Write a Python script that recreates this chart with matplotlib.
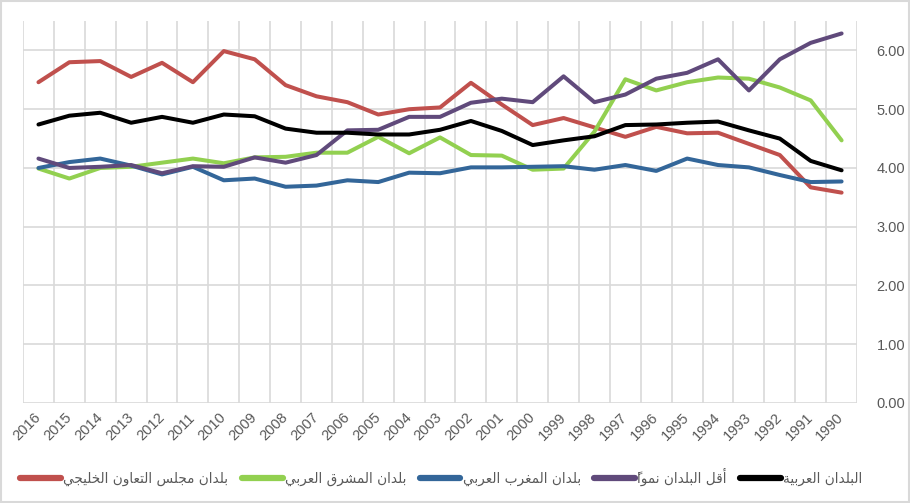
import matplotlib
matplotlib.use("Agg")
import matplotlib.pyplot as plt
import numpy as np
from matplotlib.patches import Rectangle

years = [str(y) for y in range(2016, 1989, -1)]

gcc = [5.46, 5.80, 5.82, 5.55, 5.79, 5.46, 5.99, 5.85, 5.41, 5.22, 5.12, 4.91, 5.00, 5.03,
       5.45, 5.08, 4.73, 4.85, 4.69, 4.53, 4.70, 4.59, 4.60, 4.41, 4.22, 3.67, 3.58]
mashreq = [3.99, 3.82, 4.00, 4.02, 4.09, 4.16, 4.08, 4.18, 4.19, 4.26, 4.26, 4.53, 4.25, 4.52,
           4.22, 4.21, 3.97, 3.99, 4.62, 5.51, 5.32, 5.46, 5.54, 5.52, 5.37, 5.15, 4.47]
maghreb = [4.00, 4.10, 4.16, 4.04, 3.89, 4.02, 3.79, 3.82, 3.68, 3.70, 3.79, 3.76, 3.92, 3.91,
           4.01, 4.01, 4.02, 4.03, 3.97, 4.05, 3.95, 4.16, 4.05, 4.01, 3.88, 3.76, 3.77]
ldc = [4.16, 4.00, 4.02, 4.05, 3.91, 4.03, 4.02, 4.18, 4.09, 4.22, 4.64, 4.65, 4.87, 4.87,
       5.11, 5.18, 5.12, 5.56, 5.12, 5.25, 5.52, 5.62, 5.85, 5.32, 5.85, 6.13, 6.29]
arab = [4.74, 4.89, 4.94, 4.77, 4.87, 4.77, 4.91, 4.88, 4.67, 4.60, 4.60, 4.57, 4.57, 4.65,
        4.80, 4.63, 4.39, 4.47, 4.54, 4.73, 4.74, 4.77, 4.79, 4.64, 4.50, 4.12, 3.96]

labels = ["بلدان مجلس التعاون الخليجي", "بلدان المشرق العربي", "بلدان المغرب العربي",
          "أقل البلدان نمواً", "البلدان العربية"]
colors = ["#C0504D", "#92D050", "#336699", "#604A7B", "#000000"]
yticks = [0, 1, 2, 3, 4, 5, 6]

# --- minimal Arabic shaping (presentation forms) + visual reordering ---
FORMS = {
    '\u0627': (0xFE8D, 0xFE8E, None, None),
    '\u0623': (0xFE83, 0xFE84, None, None),
    '\u0628': (0xFE8F, 0xFE90, 0xFE91, 0xFE92),
    '\u0629': (0xFE93, 0xFE94, None, None),
    '\u062A': (0xFE95, 0xFE96, 0xFE97, 0xFE98),
    '\u062C': (0xFE9D, 0xFE9E, 0xFE9F, 0xFEA0),
    '\u062E': (0xFEA5, 0xFEA6, 0xFEA7, 0xFEA8),
    '\u062F': (0xFEA9, 0xFEAA, None, None),
    '\u0631': (0xFEAD, 0xFEAE, None, None),
    '\u0633': (0xFEB1, 0xFEB2, 0xFEB3, 0xFEB4),
    '\u0634': (0xFEB5, 0xFEB6, 0xFEB7, 0xFEB8),
    '\u0639': (0xFEC9, 0xFECA, 0xFECB, 0xFECC),
    '\u063A': (0xFECD, 0xFECE, 0xFECF, 0xFED0),
    '\u0642': (0xFED5, 0xFED6, 0xFED7, 0xFED8),
    '\u0644': (0xFEDD, 0xFEDE, 0xFEDF, 0xFEE0),
    '\u0645': (0xFEE1, 0xFEE2, 0xFEE3, 0xFEE4),
    '\u0646': (0xFEE5, 0xFEE6, 0xFEE7, 0xFEE8),
    '\u0648': (0xFEED, 0xFEEE, None, None),
    '\u064A': (0xFEF1, 0xFEF2, 0xFEF3, 0xFEF4),
}
LAMALEF = {'\u0627': (0xFEFB, 0xFEFC), '\u0623': (0xFEF7, 0xFEF8)}
MARKS = {'\u064B'}


def shape(text):
    clusters = []
    for ch in text:
        if ch in MARKS and clusters:
            clusters[-1][1] += ch
        else:
            clusters.append([ch, ""])
    merged = []
    i = 0
    while i < len(clusters):
        c, m = clusters[i]
        if c == '\u0644' and i + 1 < len(clusters) and clusters[i + 1][0] in LAMALEF:
            merged.append(["LA" + clusters[i + 1][0], m + clusters[i + 1][1]])
            i += 2
        else:
            merged.append([c, m])
            i += 1

    def dual(c):
        if c.startswith("LA"):
            return False
        return c in FORMS and FORMS[c][2] is not None

    def joining(c):
        return c.startswith("LA") or c in FORMS

    out = []
    for k, (c, m) in enumerate(merged):
        prev = merged[k - 1][0] if k > 0 else None
        nxt = merged[k + 1][0] if k + 1 < len(merged) else None
        cp = prev is not None and dual(prev)
        if c.startswith("LA"):
            g = chr(LAMALEF[c[2]][1 if cp else 0])
        elif c in FORMS:
            cn = dual(c) and nxt is not None and joining(nxt)
            f = FORMS[c]
            if cp and cn:
                g = chr(f[3])
            elif cp:
                g = chr(f[1])
            elif cn:
                g = chr(f[2])
            else:
                g = chr(f[0])
        else:
            g = c
        out.append(m + g)
    return "".join(reversed(out))


fig = plt.figure(figsize=(9.10, 5.03), dpi=100)
ax = fig.add_axes([0.0253, 0.199, 0.9165, 0.759])

x = np.arange(len(years))
series = [gcc, mashreq, maghreb, ldc, arab]
for vals, col, lab in zip(series, colors, labels):
    ax.plot(x, vals, color=col, lw=2.9, solid_capstyle="round", solid_joinstyle="round",
            label=shape(lab), zorder=3)

ax.set_xlim(-0.5, len(years) - 0.5)
ax.set_ylim(0, 6.5)
ax.set_yticks(yticks)
ax.set_yticklabels([f"{v:.2f}" for v in yticks])
ax.yaxis.tick_right()

for yv in yticks:
    ax.axhline(yv, color="#D9D9D9", lw=1.2, zorder=1)
for b in np.arange(-0.5, len(years), 1.0):
    ax.axvline(b, color="#D9D9D9", lw=1.2, zorder=1)

ax.set_xticks(x)
ax.set_xticklabels(years, rotation=45, ha="right", va="center", rotation_mode="anchor")
for s in ax.spines.values():
    s.set_visible(False)
ax.tick_params(axis="both", length=0, colors="#595959", labelsize=10.5)
ax.tick_params(axis="x", pad=9)
ax.tick_params(axis="y", pad=14)
for t in ax.get_xticklabels() + ax.get_yticklabels():
    t.set_fontfamily(["Liberation Sans Narrow", "Liberation Sans", "DejaVu Sans"])

leg = fig.legend(loc="center", bbox_to_anchor=(0.485, 0.051), ncol=5, frameon=False,
                 prop={"family": "DejaVu Sans", "size": 9.8}, handlelength=3.0,
                 handletextpad=0.15, columnspacing=1.0)
for t in leg.get_texts():
    t.set_color("#595959")
for h in leg.get_lines():
    h.set_linewidth(4.5)
    h.set_solid_capstyle("round")

fig.patches.append(Rectangle((0.001, 0.001), 0.998, 0.997, transform=fig.transFigure,
                             fill=False, edgecolor="#D9D9D9", lw=1.5))

fig.savefig("out.png", dpi=100)
